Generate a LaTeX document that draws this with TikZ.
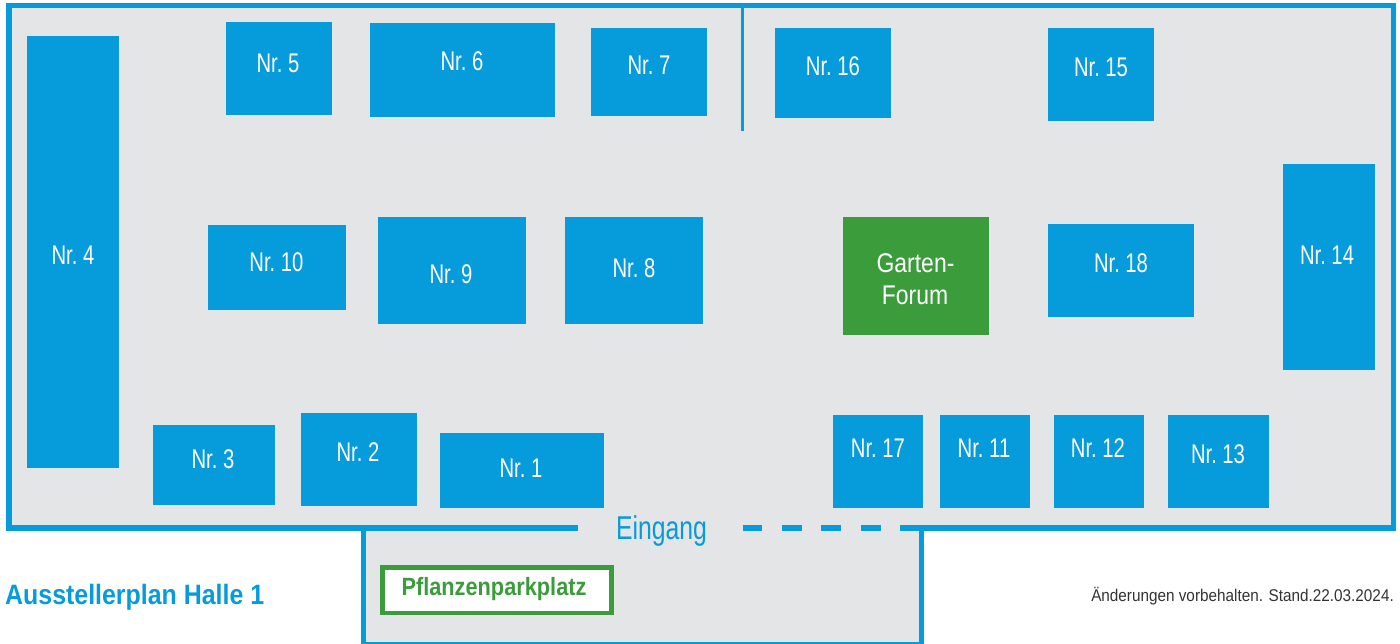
\documentclass[tikz,border=0pt]{standalone}
\usepackage{fontspec}
\setmainfont{Liberation Sans}
\newfontfamily\narrowfont[FakeStretch=0.75]{Liberation Sans}
\newfontfamily\forumfont[FakeStretch=0.85]{Liberation Sans}
\newfontfamily\boldnarrow[FakeStretch=0.87]{Liberation Sans Bold}
\newfontfamily\titlefont[FakeStretch=0.89]{Liberation Sans Bold}
\newfontfamily\notefont[FakeStretch=0.9]{Liberation Sans}
\definecolor{hallgray}{HTML}{E4E5E7}
\definecolor{planblue}{HTML}{069BDA}
\definecolor{plangreen}{HTML}{3B9C3B}
\definecolor{notegray}{HTML}{333333}
\tikzset{
  wall/.style={draw=planblue,line width=5.5pt},
  wallthin/.style={draw=planblue,line width=3pt},
  booth/.style={fill=planblue},
  forum/.style={fill=plangreen},
  boothlabel/.style={text=white,inner sep=0pt,font=\narrowfont\fontsize{27}{30}\selectfont,align=center},
  forumlabel/.style={text=white,inner sep=0pt,font=\forumfont\fontsize{27}{30}\selectfont},
}
\newcommand{\standbox}[8][booth]{%
  \fill[#1] (#2,#3) rectangle (#4,#5);
  \node[boothlabel] (#8) at (#6,#7) {Nr.~#8};
}
\begin{document}
\begin{tikzpicture}[x=1pt,y=-1pt]
\useasboundingbox (0,0) rectangle (1400,643);
% floors
\fill[hallgray] (9,5.5) rectangle (1393.5,528);
\fill[hallgray] (363.5,528) rectangle (921.5,643);
% outer wall of the hall
\coordinate (gapL) at (578,528);
\coordinate (gapR) at (900,528);
\draw[wall,line cap=butt] (gapL) -- (9,528) -- (9,5.5) -- (1393.5,5.5) -- (1393.5,528) -- (gapR);
% dashed entrance
\draw[wall] (742.5,528) -- (762,528);
\draw[wall] (782,528) -- (802,528);
\draw[wall] (821,528) -- (841,528);
\draw[wall] (861,528) -- (880.5,528);
% annex
\draw[wall,line width=4.8pt] (363.5,528) -- (363.5,644.2) -- (921.5,644.2) -- (921.5,528);
% divider
\draw[wallthin] (742.5,5.5) -- (742.5,131);
% booths
\standbox{27}{36}{119}{468}{73}{255}{4}
\standbox{226}{22}{332}{115}{278}{63}{5}
\standbox{370}{23}{555}{117}{462}{61}{6}
\standbox{591}{28}{707}{116}{649}{65}{7}
\standbox{775}{28}{891}{118}{833}{66}{16}
\standbox{1048}{28}{1154}{121}{1101}{67}{15}
\standbox{208}{225}{346}{310}{276.5}{262}{10}
\standbox{378}{217}{526}{324}{451}{274}{9}
\standbox{565}{217}{703}{324}{634}{268}{8}
\standbox{1048}{224}{1194}{317}{1121}{263}{18}
\standbox{1283}{164}{1375}{370}{1327}{255}{14}
\standbox{153}{425}{275}{505}{213}{459}{3}
\standbox{301}{413}{417}{506}{358}{452}{2}
\standbox{440}{433}{604}{508}{521}{468}{1}
\standbox{833}{415}{923}{508}{878}{448}{17}
\standbox{940}{415}{1030}{508}{984}{448}{11}
\standbox{1054}{415}{1144}{508}{1098}{448}{12}
\standbox{1168}{415}{1269}{508}{1218}{454}{13}
% garden forum
\fill[forum] (843,217) rectangle (989,335);
\node[forumlabel] (gartenA) at (915.5,263) {Garten-};
\node[forumlabel] (gartenB) at (915,295) {Forum};
% texts
\node[inner sep=0pt,text=planblue,font=\narrowfont\fontsize{33}{36}\selectfont] (eingang) at (661.5,531) {Eingang};
\draw[draw=plangreen,fill=white,line width=4.5pt] (382.3,567.3) rectangle (611.5,612.8);
\node[inner sep=0pt,text=plangreen,font=\boldnarrow\fontsize{25}{28}\selectfont] (pflanzen) at (494,589.5) {Pflanzenparkplatz};
\node[inner sep=0pt,anchor=base west,text=planblue,font=\titlefont\fontsize{28}{30}\selectfont] (titel) at (5,604) {Ausstellerplan Halle 1};
\node[inner sep=0pt,anchor=base east,text=notegray,font=\notefont\fontsize{17}{20}\selectfont] (stand) at (1394,601) {Änderungen vorbehalten. Stand.22.03.2024.};
\end{tikzpicture}
\end{document}
